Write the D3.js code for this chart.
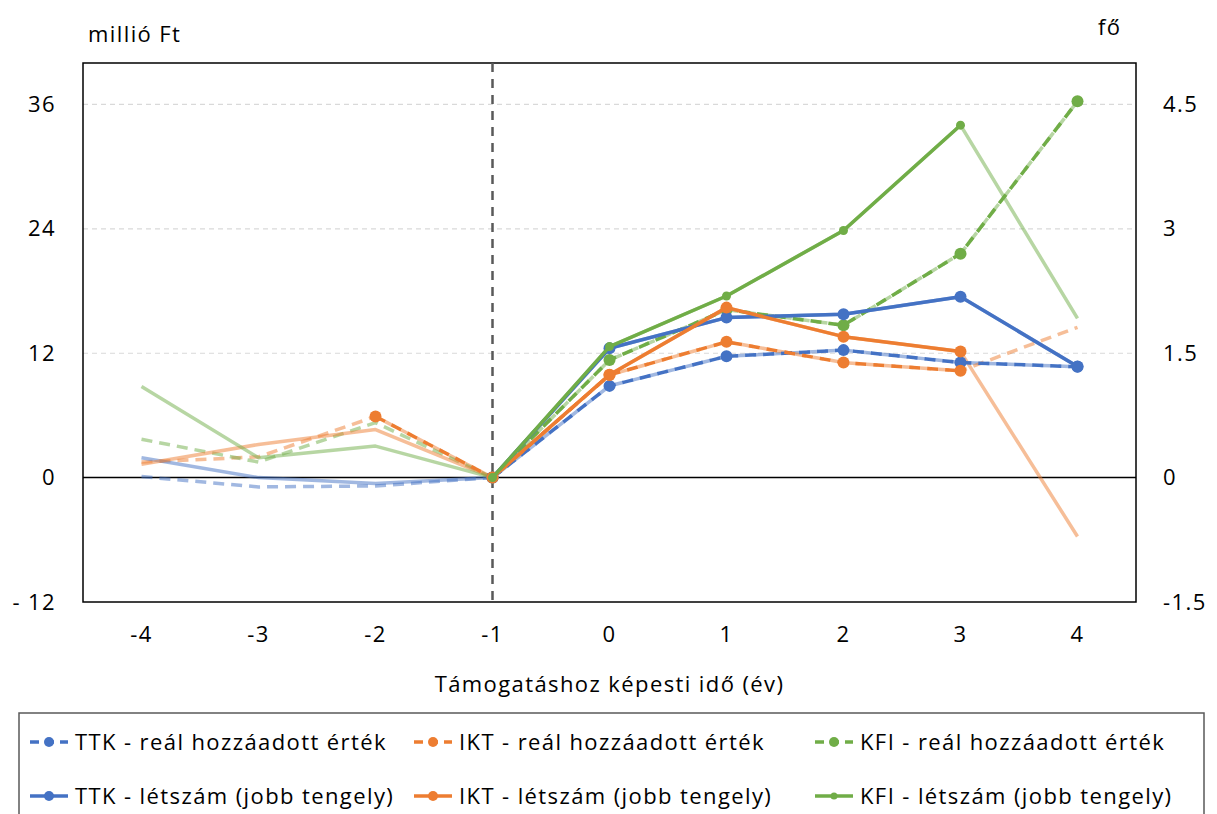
<!DOCTYPE html>
<html>
<head>
<meta charset="utf-8">
<script src="https://cdn.jsdelivr.net/npm/d3@7"></script>
<style>
  html, body { margin: 0; padding: 0; background: #fff; }
  svg { display: block; }
  text { font-family: "Open Sans", "Noto Sans", sans-serif; fill: #000; letter-spacing: 1.4px; }
</style>
</head>
<body>
<svg id="chart" width="1217" height="814"></svg>
<script>
// ---- data ----
const years = [-4, -3, -2, -1, 0, 1, 2, 3, 4];
const leftTicks = [-12, 0, 12, 24, 36];
const leftTickLabels = ["- 12", "0", "12", "24", "36"];
const rightTicks = [-1.5, 0, 1.5, 3, 4.5];
const rightTickLabels = ["-1.5", "0", "1.5", "3", "4.5"];

// real value added (million Ft, left axis)
const ttkVA = [0.1, -0.9, -0.8, 0, 8.85, 11.7, 12.3, 11.1, 10.7];
const iktVA = [1.5, 2.0, 5.9, 0, 9.9, 13.1, 11.1, 10.3, 14.5];
const kfiVA = [3.7, 1.5, 5.3, 0, 11.35, 16.2, 14.7, 21.6, 36.3];
// headcount (persons, right axis)
const ttkEmp = [0.24, 0.0, -0.07, 0, 1.56, 1.93, 1.97, 2.18, 1.34];
const iktEmp = [0.16, 0.40, 0.58, 0, 1.24, 2.05, 1.70, 1.52, -0.71];
const kfiEmp = [1.10, 0.24, 0.38, 0, 1.58, 2.19, 2.98, 4.25, 1.92];
// significant points (drawn strong, with markers)
const ttkVASig  = [0, 0, 0, 1, 1, 1, 1, 1, 1];
const iktVASig  = [0, 0, 1, 1, 1, 1, 1, 1, 0];
const kfiVASig  = [0, 0, 0, 1, 1, 1, 1, 1, 1];
const ttkEmpSig = [0, 0, 0, 1, 1, 1, 1, 1, 1];
const iktEmpSig = [0, 0, 0, 1, 1, 1, 1, 1, 0];
const kfiEmpSig = [0, 0, 0, 1, 1, 1, 1, 1, 0];

const seriesNames = [
  "TTK - reál hozzáadott érték", "IKT - reál hozzáadott érték", "KFI - reál hozzáadott érték",
  "TTK - létszám (jobb tengely)", "IKT - létszám (jobb tengely)", "KFI - létszám (jobb tengely)"
];
const colors = { TTK: "#4472C4", IKT: "#ED7D31", KFI: "#70AD47" };

const series = [
  { name: seriesNames[0], color: colors.TTK, values: ttkVA,  sig: ttkVASig,  axis: "left",  dashed: true,  r: 6 },
  { name: seriesNames[1], color: colors.IKT, values: iktVA,  sig: iktVASig,  axis: "left",  dashed: true,  r: 6 },
  { name: seriesNames[2], color: colors.KFI, values: kfiVA,  sig: kfiVASig,  axis: "left",  dashed: true,  r: 6 },
  { name: seriesNames[3], color: colors.TTK, values: ttkEmp, sig: ttkEmpSig, axis: "right", dashed: false, r: 6 },
  { name: seriesNames[4], color: colors.IKT, values: iktEmp, sig: iktEmpSig, axis: "right", dashed: false, r: 6 },
  { name: seriesNames[5], color: colors.KFI, values: kfiEmp, sig: kfiEmpSig, axis: "right", dashed: false, r: 4.5 }
];

// ---- layout ----
const FS = 22;
const plot = { left: 83, right: 1136, top: 63, bottom: 602 };
const svg = d3.select("#chart");

const x = d3.scaleBand().domain(years).range([plot.left, plot.right]);
const xc = v => x(v) + x.bandwidth() / 2;
const yL = d3.scaleLinear().domain([-12, 40]).range([plot.bottom, plot.top]);
const yR = d3.scaleLinear().domain([-1.5, 5]).range([plot.bottom, plot.top]);

// gridlines
svg.append("g").selectAll("line").data([12, 24, 36]).join("line")
  .attr("x1", plot.left).attr("x2", plot.right)
  .attr("y1", d => yL(d)).attr("y2", d => yL(d))
  .attr("stroke", "#D9D9D9").attr("stroke-width", 1.2).attr("stroke-dasharray", "5,4");

// plot border
svg.append("rect").attr("x", plot.left).attr("y", plot.top)
  .attr("width", plot.right - plot.left).attr("height", plot.bottom - plot.top)
  .attr("fill", "none").attr("stroke", "#000").attr("stroke-width", 1.5);

// zero line
svg.append("line").attr("x1", plot.left).attr("x2", plot.right)
  .attr("y1", yL(0)).attr("y2", yL(0)).attr("stroke", "#000").attr("stroke-width", 1.5);

// vertical dashed line at -1
svg.append("line").attr("x1", xc(-1)).attr("x2", xc(-1))
  .attr("y1", plot.top).attr("y2", plot.bottom)
  .attr("stroke", "#595959").attr("stroke-width", 2.5).attr("stroke-dasharray", "9,7");

// axes (labels only)
const axL = d3.axisLeft(yL).tickValues(leftTicks).tickSize(0).tickPadding(0)
  .tickFormat((d, i) => leftTickLabels[i]);
const gL = svg.append("g").attr("transform", `translate(56,0)`).call(axL);
gL.select(".domain").remove();
gL.selectAll("text").attr("font-size", FS).attr("font-family", "Open Sans").attr("fill", "#000");

const axR = d3.axisRight(yR).tickValues(rightTicks).tickSize(0).tickPadding(0)
  .tickFormat((d, i) => rightTickLabels[i]);
const gR = svg.append("g").attr("transform", `translate(1163,0)`).call(axR);
gR.select(".domain").remove();
gR.selectAll("text").attr("font-size", FS).attr("font-family", "Open Sans").attr("fill", "#000");

const axB = d3.axisBottom(x).tickSize(0).tickPadding(0);
const gB = svg.append("g").attr("transform", `translate(0,626)`).call(axB);
gB.select(".domain").remove();
gB.selectAll("text").attr("font-size", FS).attr("font-family", "Open Sans").attr("fill", "#000");

// titles
svg.append("text").attr("x", 88).attr("y", 42).attr("font-size", FS).text("millió Ft");
svg.append("text").attr("x", 1098).attr("y", 35).attr("font-size", FS).text("fő");
svg.append("text").attr("x", xc(0)).attr("y", 692).attr("text-anchor", "middle")
  .attr("font-size", FS).text("Támogatáshoz képesti idő (év)");

// ---- series ----
const lineGen = s => d3.line()
  .x((d, i) => xc(years[i]))
  .y(d => (s.axis === "left" ? yL(d) : yR(d)));

const gLines = svg.append("g");
// light full lines
series.forEach(s => {
  gLines.append("path").datum(s.values)
    .attr("d", lineGen(s))
    .attr("fill", "none").attr("stroke", s.color).attr("stroke-opacity", 0.5)
    .attr("stroke-width", 3.5).attr("stroke-linejoin", "round")
    .attr("stroke-dasharray", s.dashed ? "11,7" : null);
});
// strong significant segments
series.forEach(s => {
  const gen = lineGen(s).defined((d, i) => s.sig[i] === 1);
  gLines.append("path").datum(s.values)
    .attr("d", gen)
    .attr("fill", "none").attr("stroke", s.color)
    .attr("stroke-width", 3.5).attr("stroke-linejoin", "round")
    .attr("stroke-dasharray", s.dashed ? "11,7" : null);
  gLines.append("g").selectAll("circle")
    .data(s.values.map((v, i) => ({ v, i })).filter(d => s.sig[d.i] === 1))
    .join("circle")
    .attr("cx", d => xc(years[d.i]))
    .attr("cy", d => (s.axis === "left" ? yL(d.v) : yR(d.v)))
    .attr("r", s.r).attr("fill", s.color);
});

// ---- legend ----
svg.append("rect").attr("x", 19).attr("y", 713).attr("width", 1185).attr("height", 120)
  .attr("fill", "none").attr("stroke", "#595959").attr("stroke-width", 1.5);
const legCols = [30, 414, 815];
const legRows = [742, 796];
const leg = svg.append("g");
series.forEach((s, k) => {
  const col = k % 3, row = Math.floor(k / 3);
  const lx = legCols[col], ly = legRows[row];
  const g = leg.append("g").attr("transform", `translate(${lx},${ly})`);
  g.append("line").attr("x1", 0).attr("x2", 38).attr("y1", 0).attr("y2", 0)
    .attr("stroke", s.color).attr("stroke-width", 3.5)
    .attr("stroke-dasharray", s.dashed ? "9,6" : null);
  g.append("circle").attr("cx", 19).attr("cy", 0).attr("r", s.r === 6 ? 5 : 3.5).attr("fill", s.color);
  g.append("text").attr("x", 45).attr("y", 0).attr("dy", "0.35em")
    .attr("font-size", FS).text(s.name);
});
</script>
</body>
</html>
